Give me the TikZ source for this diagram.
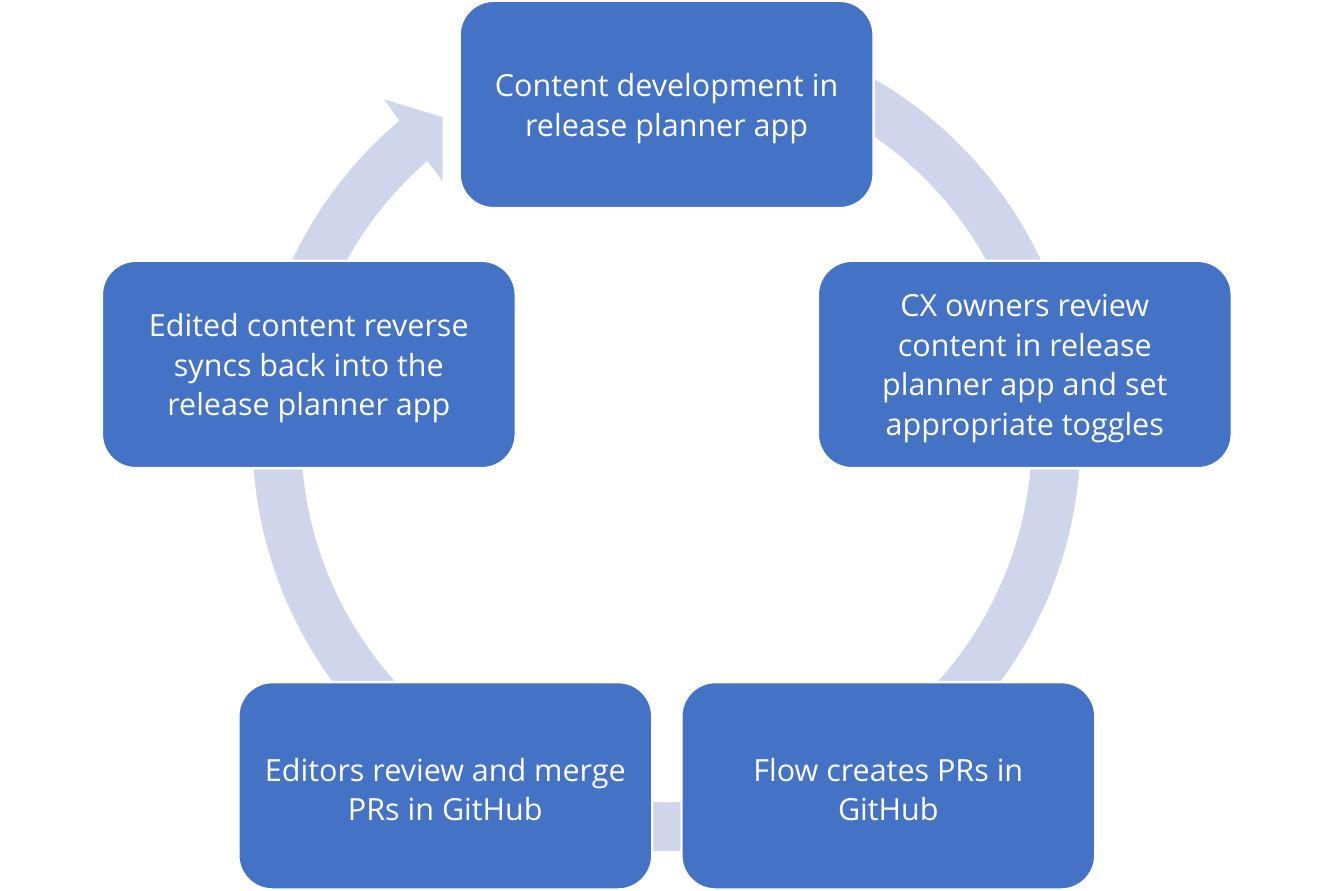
\documentclass[tikz,border=0pt]{standalone}
\usepackage{fontspec}
\newfontfamily\boxfont{Open Sans}
\definecolor{boxblue}{HTML}{4472C4}
\definecolor{arrowc}{HTML}{CFD5EA}
\begin{document}
\begin{tikzpicture}[x=1pt,y=1pt,
  stagebox/.style={draw=white, line width=2.3pt, fill=boxblue, rounded corners=34pt,
    minimum width=413.8pt, minimum height=207.3pt, inner sep=0pt},
  stagetext/.style={inner sep=0pt, align=center, text=white,
    font=\boxfont\fontsize{30.5}{39.5}\selectfont}]
\useasboundingbox (0,0) rectangle (1334,891);
% arrows (arc band), centred on the circle
\begin{scope}[shift={(666.5,454)}]
  \fill[arrowc] (95:414pt) arc[start angle=95, end angle=10, radius=414pt]
     -- (10:365.3pt) arc[start angle=10, end angle=95, radius=365.3pt] -- cycle;
  \fill[arrowc] (10:414pt) arc[start angle=10, end angle=-60, radius=414pt]
     -- (-60:365.3pt) arc[start angle=-60, end angle=10, radius=365.3pt] -- cycle;
  \fill[arrowc] (-70:414pt) arc[start angle=-70, end angle=-110, radius=414pt]
     -- (-110:365.3pt) arc[start angle=-110, end angle=-70, radius=365.3pt] -- cycle;
  \fill[arrowc] (-115:414pt) arc[start angle=-115, end angle=-190, radius=414pt]
     -- (-190:365.3pt) arc[start angle=-190, end angle=-115, radius=365.3pt] -- cycle;
  \fill[arrowc] (175:414pt) arc[start angle=175, end angle=130.2, radius=414pt]
     -- (129.9:440.3pt) -- (125:390.3pt) -- (131.2:340pt) -- (130.9:365.3pt)
     arc[start angle=130.9, end angle=175, radius=365.3pt] -- cycle;
\end{scope}
% boxes
\node[stagebox] (top) at (666.6,786.5) {};
\node[stagebox] (right) at (1024.8,526.5) {};
\node[stagebox] (bright) at (888.3,105.2) {};
\node[stagebox] (bleft) at (445.3,105.2) {};
\node[stagebox] (left) at (308.8,526.5) {};
% texts
\node[stagetext] (toptext) at ([yshift=-4pt]top.center) {Content development in\\release planner app};
\node[stagetext] (righttext) at ([yshift=-4pt]right.center) {CX owners review\\content in release\\planner app and set\\appropriate toggles};
\node[stagetext] (brighttext) at ([yshift=-4pt]bright.center) {Flow creates PRs in\\GitHub};
\node[stagetext] (blefttext) at ([yshift=-4pt]bleft.center) {Editors review and merge\\PRs in GitHub};
\node[stagetext] (lefttext) at ([yshift=-4pt]left.center) {Edited content reverse\\syncs back into the\\release planner app};
\end{tikzpicture}
\end{document}
